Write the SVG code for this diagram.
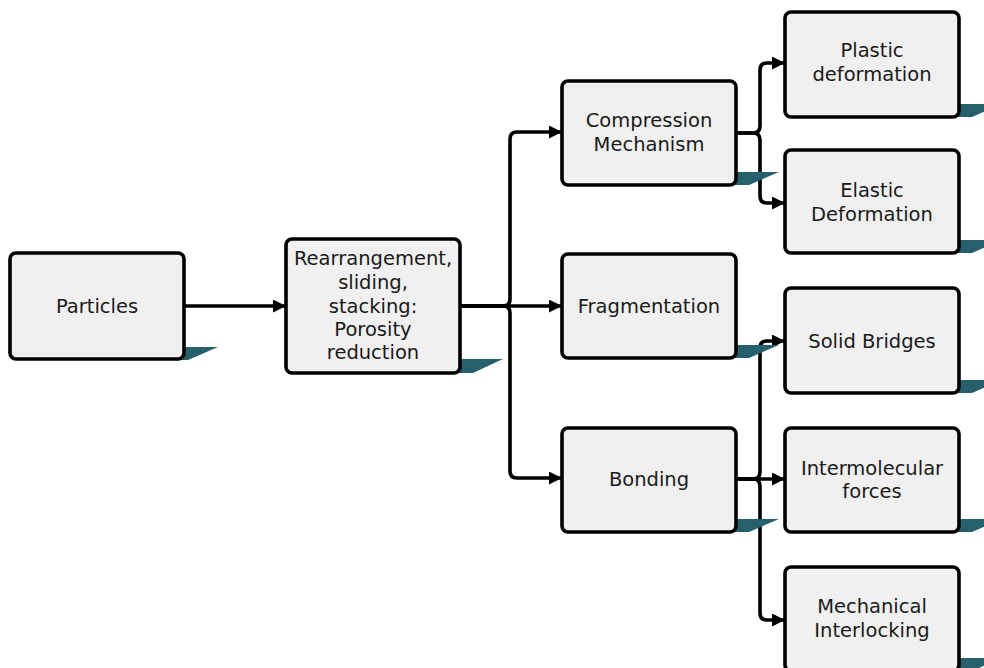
<svg xmlns="http://www.w3.org/2000/svg" width="984" height="668" viewBox="0 0 984 668">
<style>
.box{fill:#f0f0f0;stroke:#000;stroke-width:3.6}
.sh{fill:#26606c}
.t{font-family:"DejaVu Sans",Verdana,sans-serif;font-size:19.5px;fill:#1a1a1a;text-anchor:middle}
.c{fill:none;stroke:#000;stroke-width:3.6;marker-end:url(#ah)}
</style>
<defs>
<marker id="ah" viewBox="0 0 13 13" refX="13" refY="6.5" markerWidth="13" markerHeight="13" markerUnits="userSpaceOnUse" orient="auto">
<path d="M0,0 L13,6.5 L0,13 z" fill="#000"/>
</marker>
</defs>
<rect width="984" height="668" fill="#fff"/>

<g id="connectors">
<path class="c" d="M184,306 H286"/>
<path class="c" d="M460,306 H503 Q510,306 510,299 V139 Q510,132 517,132 H562"/>
<path class="c" d="M460,306 H562"/>
<path class="c" d="M460,306 H503 Q510,306 510,313 V471 Q510,478 517,478 H562"/>
<path class="c" d="M736,133 H753 Q760,133 760,126 V70 Q760,63 767,63 H785"/>
<path class="c" d="M736,133 H753 Q760,133 760,140 V196 Q760,203 767,203 H785"/>
<path class="c" d="M736,479 H753 Q760,479 760,472 V348 Q760,341 767,341 H785"/>
<path class="c" d="M736,479 H785"/>
<path class="c" d="M736,479 H753 Q760,479 760,486 V613 Q760,620 767,620 H785"/>
</g>

<g id="particles">
<polygon class="sh" points="14,347 218,347 188,360 14,360"/>
<rect class="box" x="10" y="253" width="174" height="106" rx="6"/>
<text class="t" x="97" y="313">Particles</text>
</g>

<g id="rearrangement">
<polygon class="sh" points="290,359 503,359 473,373 290,373"/>
<rect class="box" x="286" y="239" width="174" height="134" rx="6"/>
<text class="t" x="373" y="265">Rearrangement,</text>
<text class="t" x="373" y="289">sliding,</text>
<text class="t" x="373" y="313">stacking:</text>
<text class="t" x="373" y="336">Porosity</text>
<text class="t" x="373" y="359">reduction</text>
</g>

<g id="compression">
<polygon class="sh" points="566,172 779,172 749,185 566,185"/>
<rect class="box" x="562" y="81" width="174" height="104" rx="6"/>
<text class="t" x="649" y="127">Compression</text>
<text class="t" x="649" y="151">Mechanism</text>
</g>

<g id="fragmentation">
<polygon class="sh" points="566,345 779,345 749,358 566,358"/>
<rect class="box" x="562" y="254" width="174" height="104" rx="6"/>
<text class="t" x="649" y="313">Fragmentation</text>
</g>

<g id="bonding">
<polygon class="sh" points="566,519 779,519 749,532 566,532"/>
<rect class="box" x="562" y="428" width="174" height="104" rx="6"/>
<text class="t" x="649" y="486">Bonding</text>
</g>

<g id="plastic">
<polygon class="sh" points="789,104 1002,104 972,117 789,117"/>
<rect class="box" x="785" y="12" width="174" height="105" rx="6"/>
<text class="t" x="872" y="57">Plastic</text>
<text class="t" x="872" y="81">deformation</text>
</g>

<g id="elastic">
<polygon class="sh" points="789,240 1002,240 972,253 789,253"/>
<rect class="box" x="785" y="150" width="174" height="103" rx="6"/>
<text class="t" x="872" y="197">Elastic</text>
<text class="t" x="872" y="221">Deformation</text>
</g>

<g id="solid">
<polygon class="sh" points="789,380 1002,380 972,393 789,393"/>
<rect class="box" x="785" y="288" width="174" height="105" rx="6"/>
<text class="t" x="872" y="348">Solid Bridges</text>
</g>

<g id="intermolecular">
<polygon class="sh" points="789,519 1002,519 972,532 789,532"/>
<rect class="box" x="785" y="428" width="174" height="104" rx="6"/>
<text class="t" x="872" y="475">Intermolecular</text>
<text class="t" x="872" y="498">forces</text>
</g>

<g id="mechanical">
<polygon class="sh" points="789,658 1002,658 972,671 789,671"/>
<rect class="box" x="785" y="567" width="174" height="104" rx="6"/>
<text class="t" x="872" y="613">Mechanical</text>
<text class="t" x="872" y="637">Interlocking</text>
</g>
</svg>
